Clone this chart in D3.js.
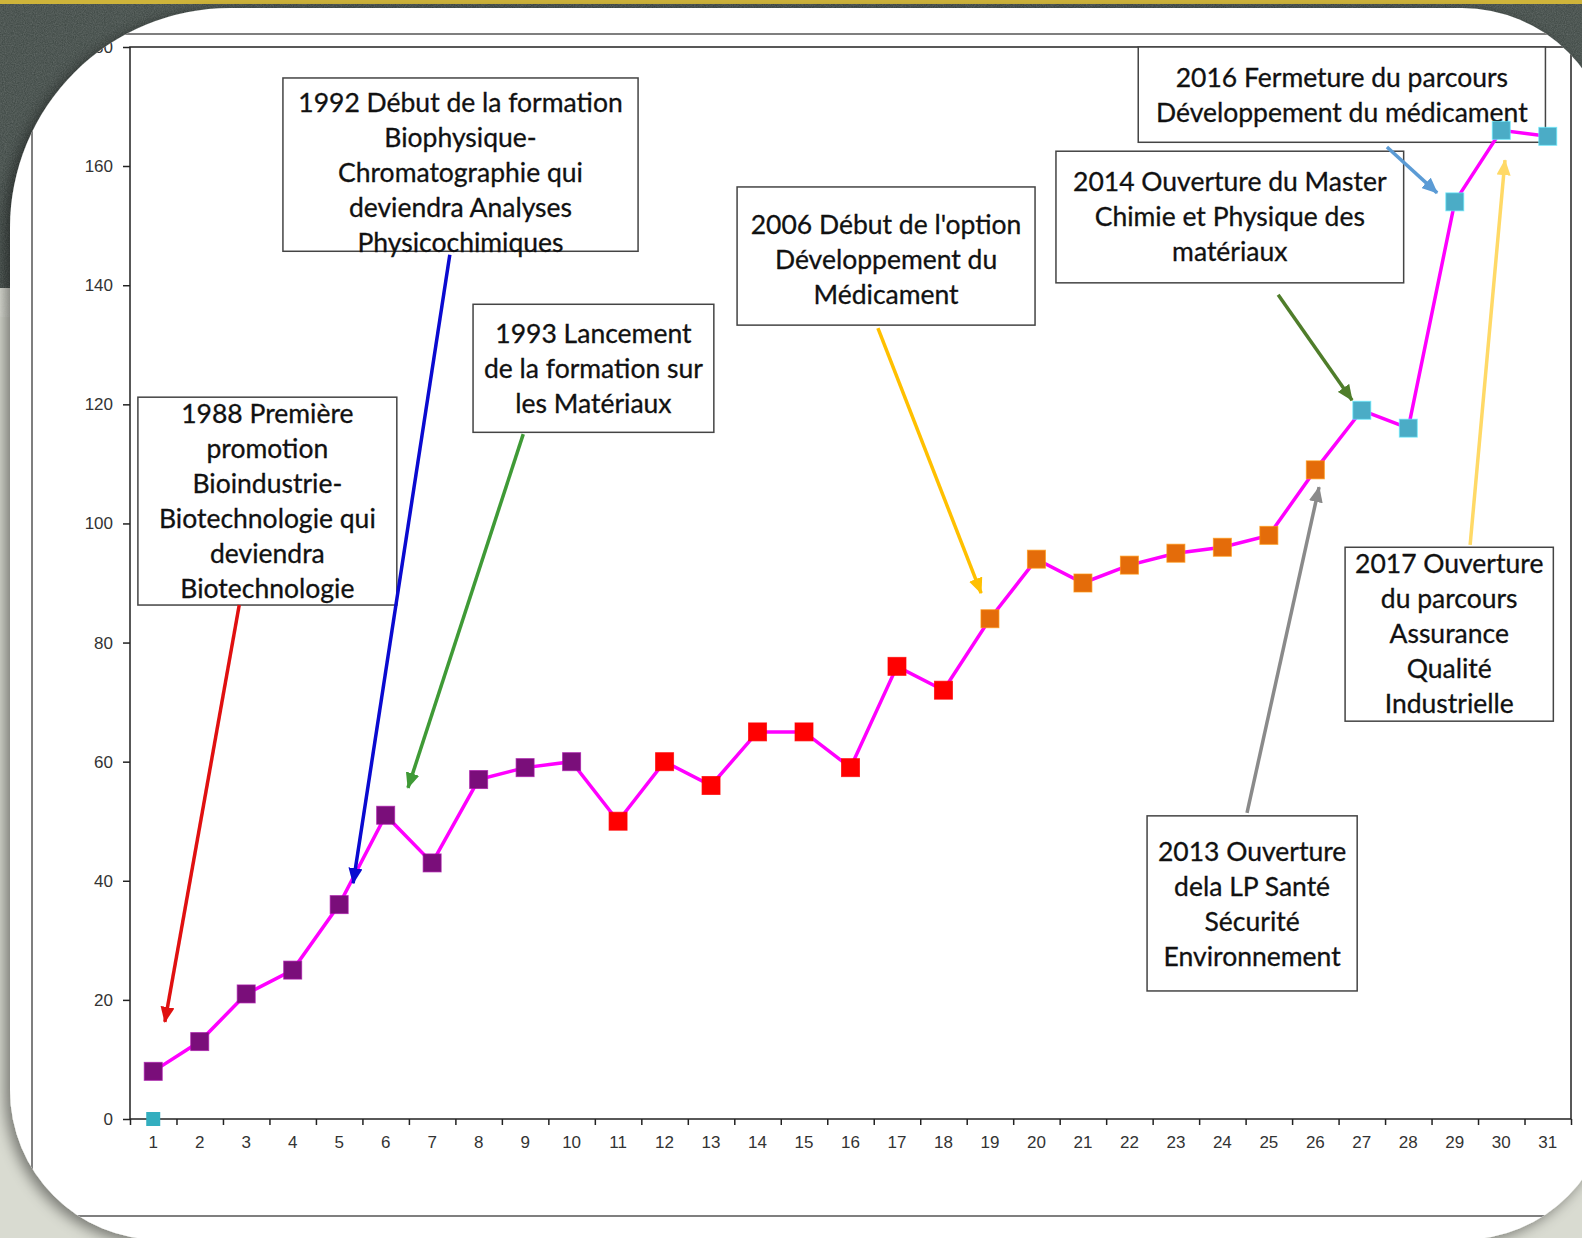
<!DOCTYPE html>
<html>
<head>
<meta charset="utf-8">
<script src="https://cdn.jsdelivr.net/npm/d3@7"></script>
<style>
body { margin: 0; overflow: hidden; background: #d9dbd1; }
</style>
</head>
<body>
<div id="chart"></div>
<script>
var width = 1582;
var height = 1238;

// data
var years = d3.range(1, 32);
var students = [8, 13, 21, 25, 36, 51, 43, 57, 59, 60,
                50, 60, 56, 65, 65, 59, 76, 72,
                84, 94, 90, 93, 95, 96, 98, 109,
                119, 116, 154, 166, 165];
var period = [0,0,0,0,0,0,0,0,0,0, 1,1,1,1,1,1,1,1, 2,2,2,2,2,2,2,2, 3,3,3,3,3];
var periodColors = ['#7a0e7a', '#ff0000', '#e46c0a', '#4bacc6'];
var startPoint = {year: 1, value: 0};
var yTicks = [0, 20, 40, 60, 80, 100, 120, 140, 160, 180];

// annotations, placed in data units (x = category, y = value)
var notes = [
    {lines: ['1988 Première', 'promotion', 'Bioindustrie-', 'Biotechnologie qui', 'deviendra', 'Biotechnologie'],
     x0: 0.67, x1: 6.24, y0: 121.2, y1: 86.3, shift: 0},
    {lines: ['1992 Début de la formation', 'Biophysique-', 'Chromatographie qui', 'deviendra Analyses', 'Physicochimiques'],
     x0: 3.79, x1: 11.43, y0: 174.8, y1: 145.7, shift: 8},
    {lines: ['1993 Lancement', 'de la formation sur', 'les Matériaux'],
     x0: 7.88, x1: 13.06, y0: 136.8, y1: 115.3, shift: 0},
    {lines: ["2006 Début de l'option", 'Développement du', 'Médicament'],
     x0: 13.56, x1: 19.97, y0: 156.5, y1: 133.3, shift: 4},
    {lines: ['2014 Ouverture du Master', 'Chimie et Physique des', 'matériaux'],
     x0: 20.42, x1: 27.9, y0: 162.5, y1: 140.4, shift: 0},
    {lines: ['2016 Fermeture du parcours', 'Développement du médicament'],
     x0: 22.19, x1: 30.95, y0: 180, y1: 164, shift: 1},
    {lines: ['2017 Ouverture', 'du parcours', 'Assurance', 'Qualité', 'Industrielle'],
     x0: 26.64, x1: 31.12, y0: 96, y1: 66.8, shift: 0},
    {lines: ['2013 Ouverture', 'dela LP Santé', 'Sécurité', 'Environnement'],
     x0: 22.38, x1: 26.9, y0: 50.9, y1: 21.5, shift: 1}
];

var arrows = [
    {from: [2.85, 86.3],  to: [1.25, 16.3],  color: '#e01010'},
    {from: [7.38, 145.1], to: [5.3, 39.6],   color: '#0a0ad0'},
    {from: [8.96, 115.0], to: [6.48, 55.6],  color: '#3f9a36'},
    {from: [16.59, 132.8], to: [18.81, 88.3], color: '#ffc000'},
    {from: [24.53, 51.4], to: [26.08, 106.1], color: '#8a8a8a'},
    {from: [25.2, 138.4], to: [26.79, 120.7], color: '#4f7d2a'},
    {from: [27.54, 163.2], to: [28.62, 155.5], color: '#5b9bd5'},
    {from: [29.33, 96.4], to: [30.08, 161.0], color: '#ffd966'}
];

var svg = d3.select('#chart')
    .append('svg')
    .attr('width', width)
    .attr('height', height);

var defs = svg.append('defs');

// slide background
var noise = defs.append('filter').attr('id', 'noise');
noise.append('feTurbulence')
    .attr('type', 'fractalNoise')
    .attr('baseFrequency', 0.9)
    .attr('numOctaves', 2)
    .attr('result', 'n');
noise.append('feColorMatrix')
    .attr('type', 'matrix')
    .attr('values', '0 0 0 0 1  0 0 0 0 1  0 0 0 0 1  0 0 0 0.22 0');

var shadow = defs.append('filter').attr('id', 'shadow')
    .attr('x', '-10%').attr('y', '-10%').attr('width', '120%').attr('height', '120%');
shadow.append('feDropShadow')
    .attr('dx', -5).attr('dy', 4)
    .attr('stdDeviation', 7)
    .attr('flood-color', '#000')
    .attr('flood-opacity', 0.45);

svg.append('rect').attr('width', width).attr('height', height).attr('fill', '#d9dbd1');
svg.append('rect').attr('width', width).attr('height', 288).attr('fill', '#39433f');
svg.append('rect').attr('width', width).attr('height', 288).attr('filter', 'url(#noise)');
svg.append('rect').attr('width', width).attr('height', 4).attr('fill', '#cfb43a');

// white card with uneven rounded corners
function cardPath(x0, y0, x1, y1, tl, r) {
    return 'M' + (x0 + tl) + ',' + y0 +
        'L' + (x1 - r) + ',' + y0 +
        'A' + r + ',' + r + ' 0 0 1 ' + x1 + ',' + (y0 + r) +
        'L' + x1 + ',' + (y1 - r) +
        'A' + r + ',' + r + ' 0 0 1 ' + (x1 - r) + ',' + y1 +
        'L' + (x0 + r) + ',' + y1 +
        'A' + r + ',' + r + ' 0 0 1 ' + x0 + ',' + (y1 - r) +
        'L' + x0 + ',' + (y0 + tl) +
        'A' + tl + ',' + tl + ' 0 0 1 ' + (x0 + tl) + ',' + y0 + 'Z';
}
var card = cardPath(10, 8, 1612, 1240, 220, 150);

svg.append('path').attr('d', card).attr('fill', '#fff').attr('filter', 'url(#shadow)');
defs.append('clipPath').attr('id', 'cardclip').append('path').attr('d', card);

var g = svg.append('g').attr('clip-path', 'url(#cardclip)');

// outer frame of the pasted picture
g.append('rect')
    .attr('x', 32).attr('y', 34)
    .attr('width', 1640).attr('height', 1182)
    .attr('fill', 'none')
    .attr('stroke', '#555')
    .attr('stroke-width', 1.5);

// scales
var x_band = d3.scaleBand().domain(years).range([130, 1571]).padding(0);
var x_pos = d3.scaleLinear().domain([0.5, 31.5]).range([130, 1571]);
var y_scale = d3.scaleLinear().domain([0, 180]).range([1119, 47]);

// plot frame
g.append('rect')
    .attr('x', x_pos(0.5)).attr('y', y_scale(180))
    .attr('width', x_pos(31.5) - x_pos(0.5))
    .attr('height', y_scale(0) - y_scale(180))
    .attr('fill', 'none')
    .attr('stroke', '#222')
    .attr('stroke-width', 1.5);

// axes
var y_axis = d3.axisLeft(y_scale).tickValues(yTicks).tickSize(7).tickPadding(10);
var yg = g.append('g')
    .attr('transform', `translate(${x_pos(0.5)}, 0)`)
    .call(y_axis);

var x_ticks = d3.axisBottom(x_pos).tickValues(d3.range(0.5, 32, 1)).tickSize(6).tickFormat('');
var xg1 = g.append('g')
    .attr('transform', `translate(0, ${y_scale(0)})`)
    .call(x_ticks);

var x_axis = d3.axisBottom(x_band).tickSize(0).tickPadding(17);
var xg2 = g.append('g')
    .attr('transform', `translate(0, ${y_scale(0)})`)
    .call(x_axis);

[yg, xg1, xg2].forEach(function(a) {
    a.select('.domain').remove();
    a.selectAll('line').attr('stroke', '#222').attr('stroke-width', 1.5);
    a.selectAll('text')
        .attr('fill', '#333')
        .style('font-family', '"Liberation Sans", Arial, sans-serif')
        .style('font-size', '17px');
});

// annotation boxes
var lineGap = 35;
var ng = g.append('g').selectAll('g.note')
    .data(notes)
    .enter()
    .append('g')
    .attr('class', 'note');

ng.append('rect')
    .attr('x', d => x_pos(d.x0))
    .attr('y', d => y_scale(d.y0))
    .attr('width', d => x_pos(d.x1) - x_pos(d.x0))
    .attr('height', d => y_scale(d.y1) - y_scale(d.y0))
    .attr('fill', '#fff')
    .attr('stroke', '#444')
    .attr('stroke-width', 1.5);

ng.each(function(d) {
    var cx = (x_pos(d.x0) + x_pos(d.x1)) / 2;
    var cy = (y_scale(d.y0) + y_scale(d.y1)) / 2 + d.shift;
    var top = cy - (d.lines.length - 1) * lineGap / 2;
    d3.select(this).selectAll('text')
        .data(d.lines)
        .enter()
        .append('text')
        .attr('x', cx)
        .attr('y', (t, i) => top + i * lineGap)
        .attr('dy', '0.35em')
        .attr('text-anchor', 'middle')
        .attr('fill', '#111')
        .attr('stroke', '#111')
        .attr('stroke-width', 0.3)
        .style('font-family', 'Lato, "Open Sans", sans-serif')
        .style('font-size', '26.5px')
        .text(t => t);
});

// line and markers
var line = d3.line()
    .x((d, i) => x_band(years[i]) + x_band.bandwidth() / 2)
    .y(d => y_scale(d));

g.append('path')
    .datum(students)
    .attr('d', line)
    .attr('fill', 'none')
    .attr('stroke', '#ff00ff')
    .attr('stroke-width', 3.5);

var sq = 18;
g.append('g').selectAll('rect')
    .data(students)
    .enter()
    .append('rect')
    .attr('x', (d, i) => x_band(years[i]) + x_band.bandwidth() / 2 - sq / 2)
    .attr('y', d => y_scale(d) - sq / 2)
    .attr('width', sq)
    .attr('height', sq)
    .attr('fill', (d, i) => periodColors[period[i]])
    .attr('stroke', (d, i) => d3.color(periodColors[period[i]]).brighter(0.9))
    .attr('stroke-opacity', 0.7)
    .attr('stroke-width', 1);

g.append('rect')
    .attr('x', x_band(startPoint.year) + x_band.bandwidth() / 2 - 7)
    .attr('y', y_scale(startPoint.value) - 7)
    .attr('width', 14)
    .attr('height', 14)
    .attr('fill', '#33aebf');

// arrows
arrows.forEach(function(a, i) {
    defs.append('marker')
        .attr('id', 'head' + i)
        .attr('markerUnits', 'userSpaceOnUse')
        .attr('viewBox', '0 0 16 14')
        .attr('markerWidth', 16)
        .attr('markerHeight', 14)
        .attr('refX', 15)
        .attr('refY', 7)
        .attr('orient', 'auto')
        .append('path')
        .attr('d', 'M0,0L16,7L0,14Z')
        .attr('fill', a.color);
});

g.append('g').selectAll('line')
    .data(arrows)
    .enter()
    .append('line')
    .attr('x1', d => x_pos(d.from[0]))
    .attr('y1', d => y_scale(d.from[1]))
    .attr('x2', d => x_pos(d.to[0]))
    .attr('y2', d => y_scale(d.to[1]))
    .attr('stroke', d => d.color)
    .attr('stroke-width', 3.5)
    .attr('marker-end', (d, i) => `url(#head${i})`);
</script>
</body>
</html>
